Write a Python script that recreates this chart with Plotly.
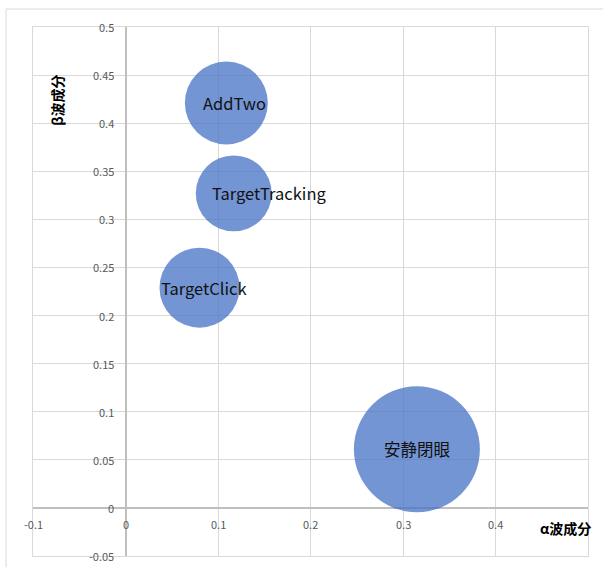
import plotly.graph_objects as go

# ---- data ----
labels = ["AddTwo", "TargetTracking", "TargetClick", "安静閉眼"]
alpha = [0.109, 0.117, 0.080, 0.315]
beta = [0.421, 0.327, 0.229, 0.061]
bubble = [17.2, 14.4, 16.0, 39.7]

x_ticks = [-0.1, 0, 0.1, 0.2, 0.3, 0.4]
x_tick_text = ["-0.1", "0", "0.1", "0.2", "0.3", "0.4"]
y_ticks = [-0.05, 0, 0.05, 0.1, 0.15, 0.2, 0.25, 0.3, 0.35, 0.4, 0.45, 0.5]
y_tick_text = ["-0.05", "0", "0.05", "0.1", "0.15", "0.2", "0.25", "0.3", "0.35", "0.4", "0.45", "0.5"]

x_title = "α波成分"
y_title = "β波成分"

# ---- style ----
FONT = "Noto Sans CJK JP"
max_diam = 126
label_xshift = [8, 35, 4, 1]

fig = go.Figure()
fig.add_trace(go.Scatter(
    x=alpha, y=beta, mode="markers",
    marker=dict(size=bubble, sizemode="area",
                sizeref=2.0 * max(bubble) / max_diam ** 2,
                color="#4472C4", opacity=0.75, line=dict(width=0)),
    hoverinfo="skip", showlegend=False,
))

annotations = []
for lx, ly, lt, sh in zip(alpha, beta, labels, label_xshift):
    annotations.append(dict(x=lx, y=ly, text=lt, showarrow=False, xshift=sh,
                            xanchor="center", yanchor="middle",
                            font=dict(family=FONT, size=16.5, color="#111111")))
for t, tt in zip(x_ticks, x_tick_text):
    annotations.append(dict(x=t, y=0, text=tt, showarrow=False, yanchor="top",
                            yshift=-6, font=dict(family=FONT, size=11, color="#595959")))
for t, tt in zip(y_ticks, y_tick_text):
    annotations.append(dict(x=0, y=t, text=tt, showarrow=False, xanchor="right",
                            xshift=-10, font=dict(family=FONT, size=11, color="#595959")))
annotations.append(dict(xref="paper", yref="paper", x=0.043, y=0.862, text="<b>" + y_title + "</b>",
                        textangle=-90, showarrow=False, xanchor="center", yanchor="middle",
                        font=dict(family=FONT, size=14, color="black")))
annotations.append(dict(xref="paper", yref="paper", x=0.959, y=0.053, text="<b>" + x_title + "</b>",
                        showarrow=False, xanchor="center", yanchor="middle",
                        font=dict(family=FONT, size=14, color="black")))

fig.update_layout(
    width=603, height=567,
    margin=dict(l=33, r=15, t=27, b=11),
    paper_bgcolor="white", plot_bgcolor="white",
    font=dict(family=FONT),
    annotations=annotations,
    xaxis=dict(range=[-0.1, 0.5], dtick=0.1, tick0=0, showticklabels=False, ticks="",
               showgrid=True, gridcolor="#d9d9d9", gridwidth=1,
               zeroline=True, zerolinecolor="#bfbfbf", zerolinewidth=1.5,
               showline=True, linecolor="#d9d9d9", mirror=True),
    yaxis=dict(range=[-0.05, 0.5], dtick=0.05, tick0=0, showticklabels=False, ticks="",
               showgrid=True, gridcolor="#d9d9d9", gridwidth=1,
               zeroline=True, zerolinecolor="#bfbfbf", zerolinewidth=1.5,
               showline=True, linecolor="#d9d9d9", mirror=True),
    shapes=[dict(type="rect", xref="paper", yref="paper", x0=-0.0486, x1=1.2, y0=-0.2, y1=1.034,
                 line=dict(color="#d9d9d9", width=1), fillcolor="rgba(0,0,0,0)", layer="below")],
)

fig.write_html("out.html")
